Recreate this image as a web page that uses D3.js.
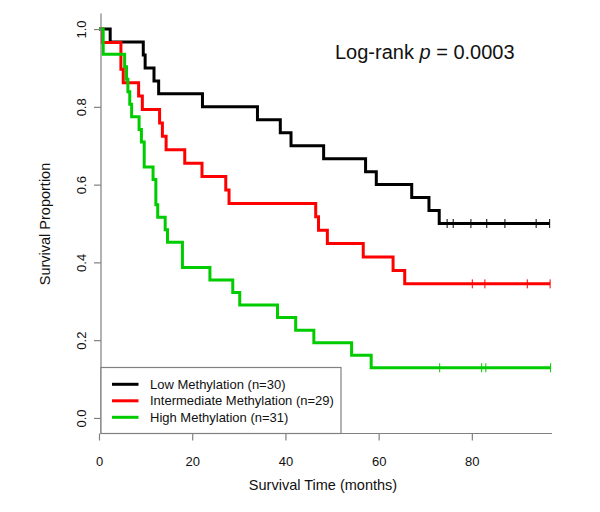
<!DOCTYPE html>
<html><head><meta charset="utf-8">
<script src="https://cdn.jsdelivr.net/npm/d3@7"></script>
<style>
html,body{margin:0;padding:0;background:#fff;}
svg{display:block;font-family:"Liberation Sans",Arial,sans-serif;}
</style></head>
<body><svg id="chart" width="600" height="512"></svg>
<script>
// ---- data ----
const groups = ["Low Methylation (n=30)", "Intermediate Methylation (n=29)", "High Methylation (n=31)"];
const groupColors = ["#000000", "#ff0000", "#00cc00"];

// event times (months) and survival proportion after each event
const lowTimes = [2.4, 9.5, 9.9, 11.8, 12.8, 22.2, 34.0, 38.9, 41.2, 48.2, 57.2, 59.5, 67.1, 70.8, 73.0];
const lowSurv  = [29/30, 28/30, 27/30, 26/30, 25/30, 24/30, 23/30, 22/30, 21/30, 20/30, 19/30, 18/30, 17/30, 16/30, 15/30];
const lowCensor = [74.7, 76.0, 79.8, 83.2, 87.1, 93.8, 96.7];

const intTimes = [0.7, 4.7, 5.2, 8.5, 9.3, 13.0, 13.6, 14.4, 18.4, 22.1, 27.2, 27.9, 46.5, 47.1, 49.0, 56.7, 63.1, 65.6];
const intSurv  = [28/29, 26/29, 25/29, 24/29, 23/29, 22/29, 21/29, 20/29, 19/29, 18/29, 17/29, 16/29, 15/29, 14/29, 13/29, 12/29, 11/29, 10/29];
const intCensor = [80.1, 82.8, 91.9, 96.8];

const highTimes = [0.9, 5.5, 5.9, 6.2, 6.6, 7.0, 8.6, 9.1, 9.7, 11.6, 12.2, 12.6, 14.2, 14.7, 17.9, 23.8, 28.7, 30.2, 38.3, 42.2, 46.1, 54.2, 58.4];
const highSurv  = [29/31, 28/31, 27/31, 26/31, 25/31, 24/31, 23/31, 22/31, 20/31, 19/31, 17/31, 16/31, 15/31, 14/31, 12/31, 11/31, 10/31, 9/31, 8/31, 7/31, 6/31, 5/31, 4/31];
const highCensor = [73.1, 82.1, 83.0, 96.9];

const xTicks = [0, 20, 40, 60, 80];
const yTicks = [0, 0.2, 0.4, 0.6, 0.8, 1.0];
const yTickLabels = ["0.0", "0.2", "0.4", "0.6", "0.8", "1.0"];
const pText = "0.0003";

// ---- drawing ----
const svg = d3.select("#chart");
const x = d3.scaleLinear().domain([0, 97.2]).range([99, 552]);
const y = d3.scaleLinear().domain([-0.04, 1.04]).range([433.5, 13.5]);
const axisCol = "#808080";

const series = [
  {times: lowTimes, surv: lowSurv, cens: lowCensor, color: groupColors[0]},
  {times: intTimes, surv: intSurv, cens: intCensor, color: groupColors[1]},
  {times: highTimes, surv: highSurv, cens: highCensor, color: groupColors[2]}
];

const line = d3.line().x(d => x(d[0])).y(d => y(d[1])).curve(d3.curveStepAfter);

series.forEach(s => {
  const pts = [[0, 1]];
  s.times.forEach((t, i) => pts.push([t, s.surv[i]]));
  const last = s.surv[s.surv.length - 1];
  pts.push([d3.max(s.cens), last]);
  svg.append("path").attr("d", line(pts)).attr("fill", "none")
     .attr("stroke", s.color).attr("stroke-width", 3).attr("stroke-linejoin", "miter");
  svg.selectAll(null).data(s.cens).enter().append("line")
     .attr("x1", d => x(d)).attr("x2", d => x(d))
     .attr("y1", y(last) - 4.5).attr("y2", y(last) + 4.5)
     .attr("stroke", s.color).attr("stroke-width", 1);
});

// L-shaped box
svg.append("path")
  .attr("d", `M${x.range()[0] + 2},${y.range()[1]}V${y.range()[0]}H${x.range()[1]}`)
  .attr("fill", "none").attr("stroke", axisCol).attr("stroke-width", 1.2);

// x axis
const xa = svg.append("g").attr("transform", `translate(0,${y.range()[0]})`)
  .call(d3.axisBottom(x).tickValues(xTicks).tickSize(7).tickPadding(16).tickFormat(d3.format("d")));
xa.select(".domain").remove();
xa.selectAll(".tick line").attr("stroke", axisCol).attr("stroke-width", 1.2);
xa.selectAll(".tick text").attr("font-size", 13).attr("fill", "#111").style("font-family", "Liberation Sans, Arial, sans-serif");

// y axis
const ya = svg.append("g").attr("transform", `translate(${x.range()[0] + 2},0)`)
  .call(d3.axisLeft(y).tickValues(yTicks).tickSize(7).tickFormat((d, i) => yTickLabels[i]));
ya.select(".domain").remove();
ya.selectAll(".tick line").attr("stroke", axisCol).attr("stroke-width", 1.2);
ya.selectAll(".tick text")
  .attr("x", null).attr("dy", null)
  .attr("text-anchor", "middle")
  .attr("transform", "translate(-15,0) rotate(-90)")
  .attr("font-size", 13).attr("fill", "#111").style("font-family", "Liberation Sans, Arial, sans-serif");

// axis titles
svg.append("text").attr("x", 323).attr("y", 490).attr("text-anchor", "middle")
  .attr("font-size", 14.5).attr("fill", "#111").text("Survival Time (months)");
svg.append("text").attr("transform", "translate(50,224) rotate(-90)").attr("text-anchor", "middle")
  .attr("font-size", 14.5).attr("fill", "#111").text("Survival Proportion");

// p-value annotation
const pt = svg.append("text").attr("x", 335).attr("y", 59).attr("font-size", 20).attr("fill", "#111");
pt.append("tspan").text("Log-rank ");
pt.append("tspan").attr("font-style", "italic").text("p");
pt.append("tspan").text(" = " + pText);

// legend
const lg = svg.append("g");
lg.append("rect").attr("x", 101).attr("y", 367.5).attr("width", 240).attr("height", 66)
  .attr("fill", "#fff").attr("stroke", axisCol).attr("stroke-width", 1.2);
groups.forEach((g, i) => {
  const cy = 384.3 + i * 16.5;
  lg.append("line").attr("x1", 112).attr("x2", 138.5).attr("y1", cy).attr("y2", cy)
    .attr("stroke", groupColors[i]).attr("stroke-width", 3);
  lg.append("text").attr("x", 150).attr("y", cy + 4.6).attr("font-size", 13).attr("fill", "#111").text(g);
});
</script></body></html>
